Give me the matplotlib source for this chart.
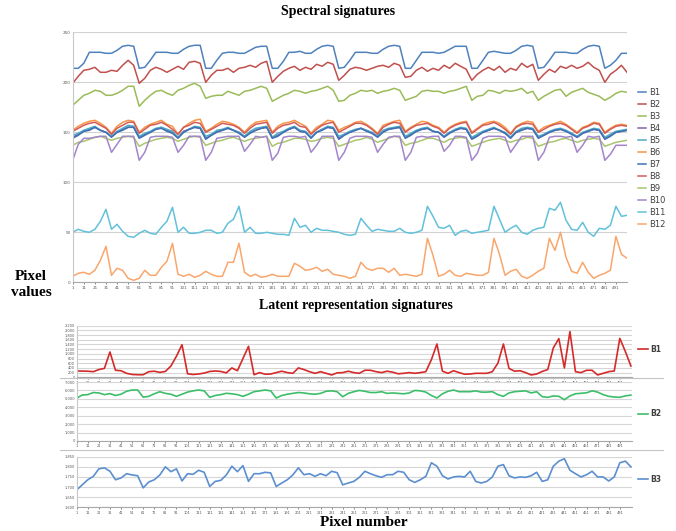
import numpy as np
import matplotlib
matplotlib.use("Agg")
import matplotlib.pyplot as plt
from matplotlib.lines import Line2D
from matplotlib.ticker import FuncFormatter

W, H = 676, 531

# pixel number, sampled every 5 pixels
pixels = np.arange(1, 502, 5)
pixel_ticks = np.arange(1, 492, 10)

band_names = ["B1", "B2", "B3", "B4", "B5", "B6", "B7", "B8", "B9", "B10", "B11", "B12"]
band_colors = ["#4F81BD", "#C0504D", "#9BBB59", "#8064A2", "#4BACC6", "#F79646",
               "#3F70B5", "#D35B58", "#A9C56E", "#A385CC", "#62C1DA", "#F9A66C"]

# ---- spectral signatures (pixel values) ----
b1 = [214, 214, 219, 230, 230, 230, 229, 229, 232, 236, 237, 236,
      214, 215, 222, 230, 230, 230, 229, 229, 233, 236, 237, 237,
      214, 214, 222, 229, 230, 230, 229, 229, 232, 235, 236, 236,
      214, 214, 221, 230, 230, 231, 229, 229, 233, 236, 237, 236,
      214, 215, 222, 230, 230, 230, 229, 229, 233, 236, 237, 236,
      214, 214, 222, 230, 230, 230, 229, 230, 233, 236, 236, 236,
      214, 214, 222, 230, 231, 230, 229, 229, 232, 236, 237, 236,
      214, 215, 222, 230, 230, 230, 229, 229, 233, 236, 237, 236,
      214, 217, 222, 229, 229]
b2 = [199, 206, 212, 213, 215, 210, 210, 212, 211, 217, 222, 217,
      199, 204, 212, 215, 213, 210, 213, 216, 213, 220, 221, 219,
      200, 207, 212, 212, 214, 210, 214, 215, 217, 215, 219, 221,
      200, 206, 211, 214, 216, 212, 215, 213, 218, 216, 220, 218,
      202, 207, 213, 215, 214, 212, 214, 216, 217, 215, 219, 217,
      205, 206, 212, 215, 211, 214, 212, 217, 214, 219, 216, 213,
      202, 208, 212, 215, 212, 216, 210, 214, 212, 219, 215, 218,
      202, 208, 213, 210, 216, 214, 217, 214, 216, 220, 215, 212,
      200, 208, 212, 217, 210]
b3 = [177, 182, 187, 189, 192, 191, 187, 187, 189, 192, 196, 196,
      176, 182, 187, 191, 192, 189, 187, 192, 194, 197, 199, 196,
      184, 186, 187, 187, 191, 189, 187, 191, 192, 194, 196, 194,
      181, 184, 187, 189, 192, 191, 189, 191, 192, 194, 196, 192,
      181, 182, 187, 189, 192, 191, 192, 189, 191, 192, 194, 192,
      182, 184, 186, 191, 192, 191, 191, 189, 191, 192, 194, 196,
      182, 186, 187, 192, 191, 189, 192, 191, 192, 194, 189, 191,
      182, 186, 189, 192, 193, 186, 190, 192, 194, 190, 188, 186,
      182, 185, 189, 191, 190]
b4 = [145, 148, 151, 153, 155, 152, 150, 146, 150, 153, 155, 155,
      145, 148, 150, 153, 155, 152, 150, 145, 151, 153, 155, 154,
      144, 147, 151, 152, 154, 152, 150, 146, 150, 152, 154, 155,
      145, 147, 150, 153, 155, 151, 150, 145, 150, 153, 155, 154,
      144, 148, 150, 152, 154, 152, 149, 146, 151, 153, 154, 155,
      145, 148, 151, 153, 154, 151, 150, 146, 150, 152, 154, 153,
      144, 147, 150, 152, 154, 152, 149, 145, 150, 153, 154, 153,
      145, 147, 150, 152, 153, 151, 149, 145, 149, 151, 153, 152,
      144, 147, 150, 151, 152]
b5 = [147, 149, 152, 154, 156, 152, 150, 146, 151, 154, 157, 156,
      146, 149, 151, 154, 155, 153, 151, 145, 150, 153, 156, 155,
      146, 148, 152, 153, 155, 152, 150, 146, 151, 154, 155, 156,
      145, 149, 151, 154, 156, 152, 151, 145, 150, 153, 156, 155,
      146, 148, 151, 153, 154, 152, 150, 146, 152, 154, 155, 156,
      146, 149, 152, 154, 155, 151, 150, 146, 150, 153, 155, 154,
      145, 148, 151, 153, 155, 152, 150, 145, 151, 154, 155, 154,
      146, 148, 151, 153, 154, 152, 149, 146, 150, 152, 154, 153,
      145, 148, 151, 152, 153]
b6 = [152, 156, 159, 161, 162, 159, 155, 149, 156, 160, 162, 161,
      150, 155, 158, 160, 162, 158, 156, 148, 155, 159, 162, 163,
      151, 154, 158, 161, 160, 158, 155, 150, 156, 160, 161, 162,
      150, 156, 159, 160, 162, 159, 156, 149, 155, 158, 162, 161,
      152, 155, 157, 160, 161, 158, 154, 149, 157, 159, 161, 162,
      151, 155, 158, 161, 160, 157, 155, 150, 155, 158, 160, 161,
      150, 154, 158, 160, 161, 159, 155, 149, 156, 159, 161, 160,
      151, 155, 157, 159, 161, 158, 154, 150, 155, 157, 160, 159,
      150, 154, 157, 158, 157]
b7 = [144, 147, 151, 152, 155, 152, 150, 145, 150, 152, 155, 155,
      144, 147, 150, 153, 154, 151, 149, 144, 150, 153, 155, 154,
      143, 147, 150, 152, 154, 152, 149, 145, 149, 152, 154, 155,
      144, 146, 150, 153, 155, 151, 150, 144, 150, 152, 155, 154,
      143, 147, 150, 152, 154, 151, 149, 145, 150, 153, 154, 155,
      144, 147, 151, 153, 154, 151, 150, 145, 149, 152, 154, 153,
      143, 146, 150, 152, 154, 152, 149, 144, 150, 152, 154, 153,
      144, 147, 150, 152, 153, 151, 148, 145, 149, 151, 153, 152,
      143, 146, 150, 151, 152]
b8 = [151, 154, 157, 159, 160, 157, 154, 148, 154, 157, 160, 160,
      149, 153, 157, 158, 160, 157, 153, 148, 155, 157, 160, 159,
      150, 153, 156, 159, 158, 157, 154, 149, 154, 158, 159, 160,
      149, 154, 157, 158, 160, 156, 155, 148, 153, 157, 159, 160,
      150, 153, 156, 159, 159, 157, 153, 148, 155, 158, 160, 159,
      150, 154, 157, 158, 159, 156, 154, 149, 154, 157, 159, 160,
      149, 153, 157, 158, 160, 157, 153, 148, 155, 158, 159, 158,
      150, 153, 156, 158, 159, 157, 153, 149, 154, 156, 159, 158,
      149, 153, 156, 157, 156]
b9 = [137, 140, 141, 143, 145, 146, 144, 142, 144, 145, 146, 145,
      136, 139, 141, 143, 144, 145, 144, 141, 143, 145, 146, 145,
      137, 139, 141, 142, 144, 145, 143, 141, 143, 144, 145, 146,
      136, 139, 140, 142, 144, 144, 143, 141, 142, 144, 145, 144,
      136, 138, 140, 142, 143, 145, 143, 140, 142, 144, 146, 145,
      137, 139, 140, 142, 144, 144, 142, 140, 143, 144, 145, 144,
      136, 138, 140, 142, 143, 144, 142, 140, 142, 143, 145, 144,
      136, 138, 140, 141, 143, 144, 142, 140, 142, 143, 144, 143,
      136, 138, 140, 141, 142]
b10 = [122, 138, 144, 144, 145, 146, 146, 130, 138, 146, 146, 146,
       122, 130, 145, 146, 146, 146, 145, 130, 137, 146, 146, 146,
       122, 130, 144, 145, 146, 146, 146, 131, 138, 146, 145, 146,
       122, 129, 145, 146, 146, 145, 146, 130, 137, 146, 146, 146,
       122, 130, 144, 146, 146, 146, 145, 130, 138, 145, 146, 146,
       122, 130, 145, 146, 145, 146, 146, 131, 137, 146, 146, 145,
       122, 129, 144, 146, 146, 146, 145, 130, 138, 146, 146, 146,
       122, 130, 145, 146, 146, 145, 146, 130, 137, 146, 145, 146,
       122, 128, 137, 137, 137]
b11 = [50, 53, 51, 50, 53, 61, 73, 53, 58, 51, 46, 45,
       49, 52, 49, 48, 55, 61, 75, 50, 55, 49, 49, 50,
       52, 52, 49, 50, 59, 63, 76, 50, 55, 49, 49, 50,
       49, 48, 48, 47, 64, 55, 57, 50, 54, 52, 52, 51,
       50, 48, 47, 48, 64, 57, 51, 53, 52, 51, 51, 54,
       50, 49, 50, 52, 76, 66, 55, 54, 57, 47, 51, 52,
       49, 50, 51, 52, 76, 63, 50, 54, 57, 50, 48, 52,
       54, 55, 74, 72, 80, 62, 53, 52, 60, 50, 46, 54,
       53, 57, 76, 66, 67]
b12 = [6, 9, 10, 8, 12, 22, 36, 7, 14, 12, 4, 2,
       4, 12, 7, 7, 15, 21, 39, 8, 6, 8, 5, 7,
       11, 8, 6, 6, 20, 20, 39, 10, 6, 8, 5, 6,
       8, 6, 6, 6, 19, 16, 12, 13, 15, 11, 13, 8,
       7, 6, 4, 6, 20, 14, 12, 14, 14, 10, 14, 7,
       8, 7, 6, 8, 44, 27, 6, 8, 12, 7, 6, 9,
       8, 7, 7, 10, 44, 28, 7, 11, 13, 6, 4, 7,
       11, 14, 44, 32, 50, 25, 11, 9, 20, 10, 4, 7,
       9, 12, 46, 28, 24]
spectral = [b1, b2, b3, b4, b5, b6, b7, b8, b9, b10, b11, b12]

# ---- latent representation signatures ----
lat_names = ["B1", "B2", "B3"]
lat_colors = ["#D42A2A", "#3DBE6A", "#5B8FD0"]
lat_b1 = [270, 265, 260, 240, 330, 380, 1080, 300, 280, 170, 120, 110,
          110, 240, 260, 210, 250, 480, 900, 1390, 150, 120, 140, 180,
          250, 270, 250, 190, 400, 280, 800, 1320, 110, 200, 130, 140,
          200, 260, 200, 170, 400, 330, 240, 170, 240, 170, 100, 190,
          200, 260, 200, 170, 300, 300, 240, 200, 260, 220, 150, 170,
          200, 170, 200, 240, 750, 1420, 260, 170, 280, 200, 130, 140,
          170, 170, 170, 240, 600, 1420, 380, 260, 280, 200, 100, 140,
          250, 330, 1250, 1650, 400, 1950, 240, 200, 300, 300, 100, 170,
          240, 270, 1660, 1100, 480]
lat_b2 = [5080, 5460, 5500, 5750, 5700, 5500, 5620, 5400, 5550, 5900, 6050, 6050,
          5200, 5300, 5600, 5850, 5650, 5550, 5300, 5550, 5800, 5950, 6050, 5950,
          5180, 5400, 5500, 5660, 5600, 5500, 5300, 5550, 5850, 5950, 6050, 5950,
          5100, 5400, 5550, 5650, 5750, 5700, 5600, 5550, 5650, 5900, 5950, 5850,
          5250, 5650, 5850, 6000, 5900, 5750, 5750, 5850, 5650, 5700, 5650, 5600,
          5700, 6000, 5950, 5800, 5400, 5100, 5600, 5900, 6050, 5850, 5850, 5850,
          5950, 5800, 5800, 5850, 5500, 5300, 5700, 5850, 5900, 5950, 5700, 5850,
          5260, 5180, 5350, 5300, 4900, 5350, 5600, 5660, 5720, 5950, 5800, 5500,
          5300, 5220, 5180, 5350, 5450]
lat_b3 = [1686, 1711, 1736, 1753, 1790, 1795, 1778, 1736, 1745, 1766, 1760, 1756,
          1696, 1725, 1736, 1760, 1800, 1776, 1790, 1730, 1766, 1763, 1783, 1773,
          1703, 1728, 1733, 1760, 1803, 1776, 1806, 1728, 1766, 1766, 1773, 1770,
          1703, 1720, 1736, 1760, 1795, 1761, 1766, 1753, 1766, 1756, 1778, 1771,
          1711, 1720, 1728, 1748, 1778, 1766, 1756, 1748, 1761, 1761, 1778, 1773,
          1736, 1723, 1736, 1753, 1820, 1803, 1756, 1740, 1750, 1753, 1750, 1778,
          1728, 1720, 1728, 1750, 1803, 1811, 1756, 1745, 1750, 1748, 1756, 1773,
          1728, 1736, 1803, 1828, 1840, 1783, 1766, 1750, 1761, 1778, 1750, 1750,
          1730, 1750, 1820, 1828, 1800]
latent = [lat_b1, lat_b2, lat_b3]
lat_ylims = [(0, 2200), (0, 7000), (1600, 1850)]
lat_steps = [200, 1000, 50]

serif = "Liberation Serif"
tick_col = "#595959"


def fig_rect(x0, y0, x1, y1):
    """pixel box (top-left origin) -> figure fraction rect"""
    return [x0 / W, 1 - y1 / H, (x1 - x0) / W, (y1 - y0) / H]


def dot_thousands(v, pos):
    return "{:,}".format(int(round(v))).replace(",", ".")


fig = plt.figure(figsize=(W / 100, H / 100), dpi=100)

# Spectral signatures
ax = fig.add_axes(fig_rect(72.7, 32.3, 627, 282.3))
for name, vals, col in zip(band_names, spectral, band_colors):
    ax.plot(pixels, vals, color=col, lw=1.1, label=name)
ax.set_xlim(1, 501)
ax.set_ylim(0, 250)
ax.set_yticks(np.arange(0, 251, 50))
ax.set_xticks(pixel_ticks)
ax.grid(axis="y", color="#d2d2d2", lw=0.8)
ax.set_axisbelow(True)
ax.spines["top"].set_visible(False)
ax.spines["right"].set_visible(False)
ax.spines["left"].set_color("#c8c8c8")
ax.spines["bottom"].set_color("#a8a8a8")
ax.tick_params(labelsize=3, colors=tick_col, length=1.5, width=0.5, pad=1.5)
ax.tick_params(axis="y", length=0)
leg = ax.legend(loc="upper left", bbox_to_anchor=(638 / W, 1 - 88 / H),
                bbox_transform=fig.transFigure, frameon=False, fontsize=6,
                handlelength=1.0, handletextpad=0.3, labelspacing=0.36,
                borderpad=0, borderaxespad=0)
for t in leg.get_texts():
    t.set_color("#404040")

# Latent representation signatures
lat_boxes = [(76.7, 325.7, 632, 377.3), (76.7, 382, 632, 441), (76.7, 456.7, 632, 507.3)]
lat_leg_y = [349, 414, 479]
for vals, name, col, box, lim, step, ly in zip(latent, lat_names, lat_colors,
                                              lat_boxes, lat_ylims, lat_steps, lat_leg_y):
    a = fig.add_axes(fig_rect(*box))
    a.plot(pixels, vals, color=col, lw=1.2, label=name)
    a.set_xlim(1, 502)
    a.set_ylim(*lim)
    a.set_yticks(np.arange(lim[0], lim[1] + 1, step))
    a.yaxis.set_major_formatter(FuncFormatter(dot_thousands))
    a.set_xticks(pixel_ticks)
    a.grid(axis="y", color="#d6d6d6", lw=0.8)
    a.set_axisbelow(True)
    a.spines["top"].set_visible(False)
    a.spines["right"].set_visible(False)
    a.spines["left"].set_color("#c8c8c8")
    a.spines["bottom"].set_color("#a8a8a8")
    a.tick_params(labelsize=2.6, colors=tick_col, length=1.2, width=0.5, pad=1.2)
    a.tick_params(axis="y", length=0)
    lg = a.legend(loc="center left", bbox_to_anchor=(638 / W, 1 - ly / H),
                  bbox_transform=fig.transFigure, frameon=False, fontsize=5.5,
                  handlelength=1.3, handletextpad=0.3, borderpad=0, borderaxespad=0)
    for t in lg.get_texts():
        t.set_color("#404040")
        t.set_fontweight("bold")

# chart borders between the latent panels
for yb in (378, 450):
    fig.add_artist(Line2D([60 / W, 663 / W], [1 - yb / H, 1 - yb / H],
                          color="#c4c4c4", lw=0.8))

# titles and axis names
fig.text(338 / W, 1 - 12 / H, "Spectral signatures", ha="center", va="center",
         fontsize=10, fontweight="bold", family=serif)
fig.text(31 / W, 1 - 277 / H, "Pixel", ha="center", va="center",
         fontsize=11, fontweight="bold", family=serif)
fig.text(31 / W, 1 - 293 / H, "values", ha="center", va="center",
         fontsize=11, fontweight="bold", family=serif)
fig.text(356 / W, 1 - 306 / H, "Latent representation signatures", ha="center",
         va="center", fontsize=10, fontweight="bold", family=serif)
fig.text(364 / W, 1 - 523 / H, "Pixel number", ha="center", va="center",
         fontsize=11, fontweight="bold", family=serif)

fig.savefig("out.png", dpi=100)
